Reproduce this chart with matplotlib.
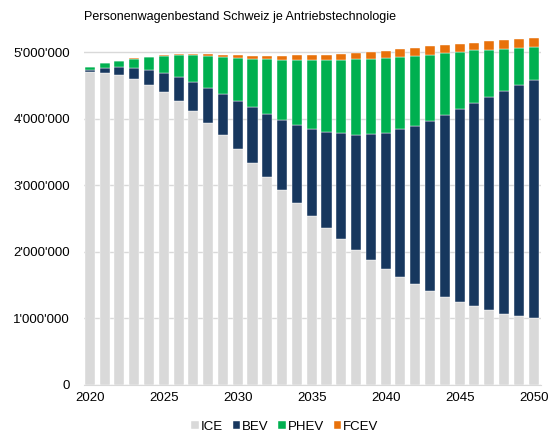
import matplotlib

matplotlib.use("Agg")
import matplotlib.pyplot as plt
from matplotlib.ticker import FuncFormatter

plt.rcParams["font.family"] = ["Liberation Sans", "DejaVu Sans"]

years = list(range(2020, 2051))
# vehicle stock per drive technology (thousands)
ice = [4700, 4690, 4650, 4590, 4510, 4400, 4270, 4110, 3940, 3750, 3550,
       3340, 3130, 2930, 2740, 2540, 2360, 2190, 2030, 1880, 1740,
       1620, 1510, 1410, 1320, 1250, 1180, 1120, 1070, 1030, 1000]
bev = [30, 70, 120, 170, 220, 290, 360, 440, 520, 620, 720,
       830, 940, 1050, 1170, 1310, 1440, 1590, 1730, 1890, 2045,
       2220, 2380, 2560, 2740, 2900, 3060, 3210, 3350, 3480, 3580]
phev = [40, 70, 90, 140, 190, 250, 320, 400, 480, 560, 640,
        730, 820, 905, 970, 1025, 1080, 1105, 1130, 1130, 1130,
        1090, 1055, 990, 925, 855, 785, 705, 630, 555, 500]
fcev = [5, 5, 5, 5, 10, 15, 15, 15, 25, 30, 45,
        45, 55, 60, 70, 80, 80, 90, 100, 105, 105,
        110, 115, 125, 120, 120, 115, 125, 125, 125, 125]

series = [("ICE", ice, "#d9d9d9"), ("BEV", bev, "#17375e"),
          ("PHEV", phev, "#00b050"), ("FCEV", fcev, "#e8710a")]

fig = plt.figure(figsize=(5.52, 4.37), dpi=100)
ax = fig.add_axes([0.152, 0.119, 0.828, 0.80])

bottom = [0] * len(years)
for name, vals, col in series:
    v = [x * 1000 for x in vals]
    ax.bar(years, v, 0.68, bottom=bottom, color=col, label=name,
           edgecolor="white", linewidth=0.3, zorder=3)
    bottom = [b + x for b, x in zip(bottom, v)]

ax.set_ylim(0, 5250000)
ax.set_xlim(2019.6, 2050.5)
ax.set_yticks(range(0, 5000001, 1000000))
ax.yaxis.set_major_formatter(FuncFormatter(lambda v, p: f"{int(v):,}".replace(",", "'")))
ax.set_xticks(range(2020, 2051, 5))
ax.tick_params(length=0, labelsize=9.5, colors="#000000")
ax.tick_params(axis="y", pad=10)
ax.tick_params(axis="x", pad=5)
ax.grid(axis="y", color="#d9d9d9", linewidth=1, zorder=0)
for s in ["top", "right", "left"]:
    ax.spines[s].set_visible(False)
ax.spines["bottom"].set_color("#d9d9d9")

fig.text(0.153, 0.96, "Personenwagenbestand Schweiz je Antriebstechnologie",
         fontsize=9, ha="left", va="center")

fig.legend(loc="center", bbox_to_anchor=(0.516, 0.024), ncol=4, frameon=False,
           fontsize=9.5, handlelength=0.55, handleheight=0.55, handletextpad=0.15,
           columnspacing=0.75, borderpad=0.1)

plt.savefig("out.png", dpi=100)
